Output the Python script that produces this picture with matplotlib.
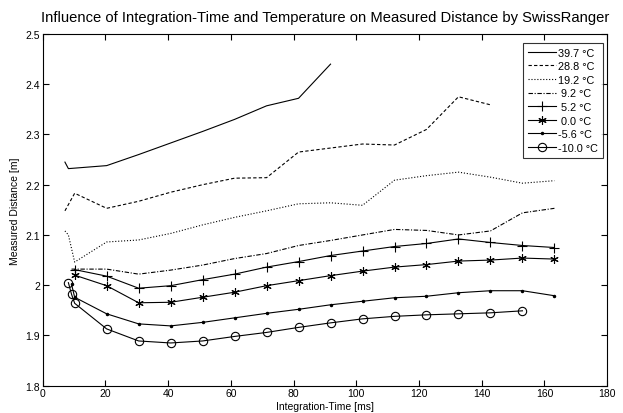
import matplotlib
matplotlib.use('Agg')
import matplotlib.pyplot as plt

plt.rcParams['font.family'] = ['Liberation Sans', 'DejaVu Sans']

# integration time [ms] and measured distance [m] per temperature
t_397 = [7.1, 8.2, 20.4, 30.6, 40.8, 51.0, 61.2, 71.4, 81.6, 91.8]
d_397 = [2.245, 2.232, 2.238, 2.260, 2.283, 2.306, 2.330, 2.357, 2.372, 2.440]

t_288 = [7.1, 10.2, 20.4, 30.6, 40.8, 51.0, 61.2, 71.4, 81.6, 91.8, 102.0, 112.2, 122.4, 132.6, 142.8]
d_288 = [2.148, 2.183, 2.153, 2.167, 2.185, 2.200, 2.213, 2.214, 2.265, 2.273, 2.281, 2.279, 2.310, 2.375, 2.359]

t_192 = [7.1, 8.2, 10.2, 20.4, 30.6, 40.8, 51.0, 61.2, 71.4, 81.6, 91.8, 102.0, 112.2, 122.4, 132.6, 142.8, 153.0, 163.2]
d_192 = [2.108, 2.100, 2.046, 2.086, 2.090, 2.103, 2.120, 2.135, 2.148, 2.162, 2.164, 2.159, 2.209, 2.218, 2.225, 2.215, 2.203, 2.208]

t_92 = [9.2, 20.4, 30.6, 40.8, 51.0, 61.2, 71.4, 81.6, 91.8, 102.0, 112.2, 122.4, 132.6, 142.8, 153.0, 163.2]
d_92 = [2.032, 2.032, 2.022, 2.030, 2.040, 2.053, 2.063, 2.079, 2.089, 2.100, 2.111, 2.109, 2.100, 2.108, 2.144, 2.153]

t_52 = [10.2, 20.4, 30.6, 40.8, 51.0, 61.2, 71.4, 81.6, 91.8, 102.0, 112.2, 122.4, 132.6, 142.8, 153.0, 163.2]
d_52 = [2.031, 2.018, 1.994, 1.999, 2.011, 2.022, 2.036, 2.047, 2.059, 2.068, 2.077, 2.083, 2.092, 2.085, 2.079, 2.075]

t_00 = [10.2, 20.4, 30.6, 40.8, 51.0, 61.2, 71.4, 81.6, 91.8, 102.0, 112.2, 122.4, 132.6, 142.8, 153.0, 163.2]
d_00 = [2.020, 1.999, 1.965, 1.966, 1.976, 1.986, 1.999, 2.009, 2.019, 2.028, 2.036, 2.041, 2.048, 2.050, 2.054, 2.052]

t_m56 = [9.2, 10.2, 20.4, 30.6, 40.8, 51.0, 61.2, 71.4, 81.6, 91.8, 102.0, 112.2, 122.4, 132.6, 142.8, 153.0, 163.2]
d_m56 = [2.002, 1.976, 1.943, 1.923, 1.919, 1.926, 1.935, 1.944, 1.952, 1.961, 1.968, 1.975, 1.978, 1.985, 1.989, 1.989, 1.979]

t_m100 = [8.2, 9.2, 10.2, 20.4, 30.6, 40.8, 51.0, 61.2, 71.4, 81.6, 91.8, 102.0, 112.2, 122.4, 132.6, 142.8, 153.0]
d_m100 = [2.005, 1.982, 1.964, 1.913, 1.889, 1.885, 1.889, 1.898, 1.906, 1.916, 1.925, 1.933, 1.938, 1.941, 1.943, 1.945, 1.949]

labels = ['39.7 °C', '28.8 °C', '19.2 °C', ' 9.2 °C', ' 5.2 °C', ' 0.0 °C', '-5.6 °C', '-10.0 °C']

fig = plt.figure(figsize=(6.23, 4.14), dpi=100)
ax = fig.add_axes([0.0685, 0.066, 0.906, 0.8495])

lw = 0.8
ax.plot(t_397, d_397, '-', color='black', lw=lw, label=labels[0])
ax.plot(t_288, d_288, '--', color='black', lw=lw, dashes=(3, 2), label=labels[1])
ax.plot(t_192, d_192, ':', color='black', lw=lw, label=labels[2])
ax.plot(t_92, d_92, '-.', color='black', lw=lw, dashes=(4, 1.5, 1, 1.5), label=labels[3])
ax.plot(t_52, d_52, '-', color='black', lw=lw, marker='+', ms=7, mew=0.8, label=labels[4])
ax.plot(t_00, d_00, '-', color='black', lw=lw, marker=(6, 2, 0), ms=6, mew=0.8, label=labels[5])
ax.plot(t_m56, d_m56, '-', color='black', lw=lw, marker='.', ms=3, label=labels[6])
ax.plot(t_m100, d_m100, '-', color='black', lw=lw, marker='o', ms=6, mfc='none', mew=0.8, label=labels[7])

ax.set_xlim(0, 180)
ax.set_ylim(1.8, 2.5)
ax.set_xticks(range(0, 181, 20))
ax.set_yticks([1.8, 1.9, 2.0, 2.1, 2.2, 2.3, 2.4, 2.5])
ax.set_yticklabels(['1.8', '1.9', '2', '2.1', '2.2', '2.3', '2.4', '2.5'])
ax.tick_params(direction='in', top=True, right=True, length=4, width=0.8, labelsize=7.5, pad=2)
for s in ax.spines.values():
    s.set_linewidth(0.8)

ax.set_title('Influence of Integration-Time and Temperature on Measured Distance by SwissRanger',
             fontsize=10.6, pad=9)
ax.set_xlabel('Integration-Time [ms]', fontsize=7.5, labelpad=1.5)
ax.set_ylabel('Measured Distance [m]', fontsize=7.5, labelpad=4)

leg = ax.legend(loc='upper right', bbox_to_anchor=(0.993, 0.975), fontsize=7.8, frameon=True,
                fancybox=False, edgecolor='black', handlelength=2.6, handletextpad=0.2,
                labelspacing=0.33, borderpad=0.45, borderaxespad=0.0)
leg.get_frame().set_linewidth(0.8)

fig.savefig('out.png', dpi=100)
